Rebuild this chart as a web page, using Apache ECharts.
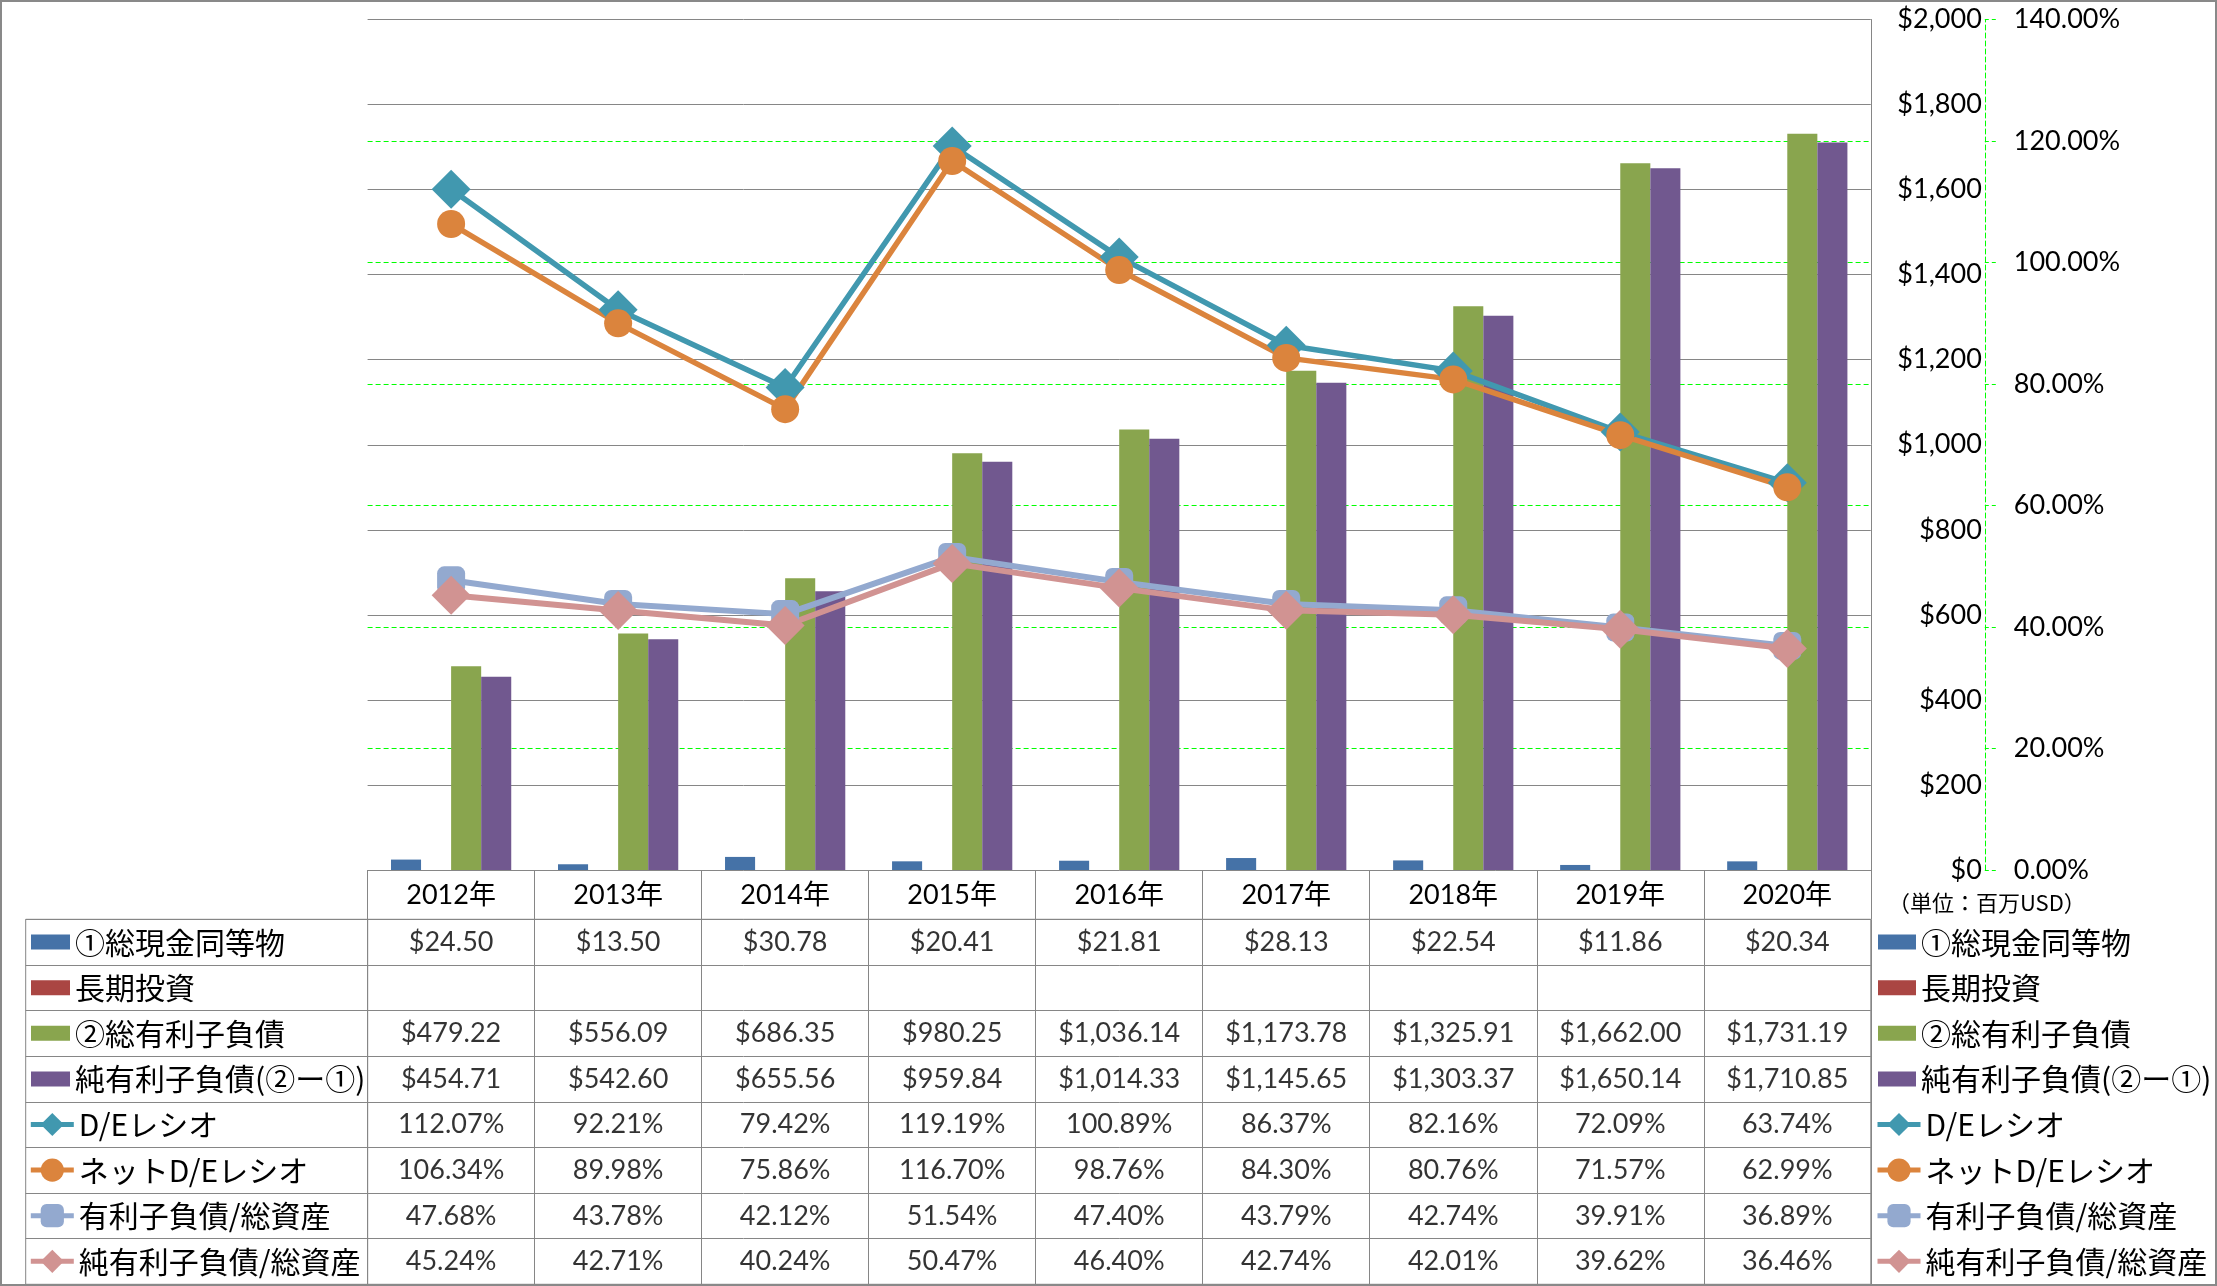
<!DOCTYPE html>
<html>
<head>
<meta charset="utf-8">
<script src="https://cdn.jsdelivr.net/npm/echarts@6/dist/echarts.min.js"></script>
<style>
  html, body { margin: 0; padding: 0; background: #fff; }
  #chart { position: absolute; left: 0; top: 0; width: 2217px; height: 1286px; }
  #frame { position: absolute; left: 0; top: 0; width: 2217px; height: 1286px; box-sizing: border-box; border: 2px solid #898989; pointer-events: none; }
</style>
</head>
<body>
<div id="chart"></div>
<div id="frame"></div>
<script>
// ---- data ----
const categories = ['2012年', '2013年', '2014年', '2015年', '2016年', '2017年', '2018年', '2019年', '2020年'];
const cashEquiv = [24.50, 13.50, 30.78, 20.41, 21.81, 28.13, 22.54, 11.86, 20.34];
const longTermInv = [null, null, null, null, null, null, null, null, null];
const totalDebt = [479.22, 556.09, 686.35, 980.25, 1036.14, 1173.78, 1325.91, 1662.00, 1731.19];
const netDebt = [454.71, 542.60, 655.56, 959.84, 1014.33, 1145.65, 1303.37, 1650.14, 1710.85];
const deRatio = [112.07, 92.21, 79.42, 119.19, 100.89, 86.37, 82.16, 72.09, 63.74];
const netDeRatio = [106.34, 89.98, 75.86, 116.70, 98.76, 84.30, 80.76, 71.57, 62.99];
const debtToAssets = [47.68, 43.78, 42.12, 51.54, 47.40, 43.79, 42.74, 39.91, 36.89];
const netDebtToAssets = [45.24, 42.71, 40.24, 50.47, 46.40, 42.74, 42.01, 39.62, 36.46];
const seriesNames = ['①総現金同等物', '長期投資', '②総有利子負債', '純有利子負債(②ー①)', 'D/Eレシオ', 'ネットD/Eレシオ', '有利子負債/総資産', '純有利子負債/総資産'];
const unitLabel = '（単位：百万USD）';

// ---- styles ----
const NUM = "Lato, 'Noto Sans CJK JP', sans-serif";
const CJK = "'Noto Sans CJK JP', sans-serif";
const BORDER = '#868686';
const GREEN = '#00ff00';
const colors = ['#4572A7', '#AA4643', '#89A54E', '#71588F', '#4198AF', '#DB843D', '#93A9CF', '#D19392'];

const money = v => '$' + v.toLocaleString('en-US', { minimumFractionDigits: 2, maximumFractionDigits: 2 });
const pct = v => v.toFixed(2) + '%';

const barData = [cashEquiv, longTermInv, totalDebt, netDebt];
const lineData = [deRatio, netDeRatio, debtToAssets, netDebtToAssets];
const rowFormats = [money, money, money, money, pct, pct, pct, pct];
const allRows = barData.concat(lineData);

const cells = [];
allRows.forEach((arr, r) => {
  arr.forEach((v, c) => {
    if (v !== null && v !== undefined) cells.push([c, r, rowFormats[r](v)]);
  });
});
const rowIds = seriesNames.map((_, i) => 'r' + i);

const lineSymbols = ['diamond', 'circle', 'roundRect', 'diamond'];
const lineSymbolSizes = [39, 28, 28, 39];
const lineWidths = [5.5, 5.5, 6, 6];

const series = [];
barData.forEach((d, i) => {
  series.push({
    type: 'bar', name: seriesNames[i], data: d,
    xAxisIndex: 0, yAxisIndex: 0,
    barGap: '0%', barCategoryGap: '28%',
    itemStyle: { color: colors[i] }
  });
});
lineData.forEach((d, i) => {
  series.push({
    type: 'line', name: seriesNames[4 + i], data: d,
    xAxisIndex: 0, yAxisIndex: 1,
    symbol: lineSymbols[i], symbolSize: lineSymbolSizes[i],
    lineStyle: { width: lineWidths[i], color: colors[4 + i] },
    itemStyle: { color: colors[4 + i] },
    z: 3
  });
});
series.push({
  type: 'scatter', name: 'table', data: cells,
  xAxisIndex: 1, yAxisIndex: 2,
  symbolSize: 1, itemStyle: { color: 'rgba(0,0,0,0)' },
  silent: true,
  label: {
    show: true, position: 'inside',
    formatter: p => p.value[2],
    fontSize: 27, fontFamily: NUM, color: '#000'
  }
});

const legendText = { fontSize: 30, lineHeight: 30, fontFamily: CJK, color: '#000' };
function mkLegend(names, left, top, w, h, icon) {
  const l = {
    orient: 'vertical', left: left, top: top, padding: 0,
    itemWidth: w, itemHeight: h, itemGap: 15.6,
    selectedMode: false, textStyle: legendText,
    data: names
  };
  if (icon) l.icon = icon;
  else l.lineStyle = { width: 5 };
  return l;
}

const option = {
  animation: false,
  backgroundColor: '#fff',
  title: {
    text: unitLabel, left: 1888, top: 892, padding: 0,
    textStyle: { fontSize: 22, fontWeight: 'normal', fontFamily: CJK, color: '#000' }
  },
  legend: [
    mkLegend(seriesNames.slice(0, 4), 31, 927.1, 39, 15, 'rect'),
    mkLegend(seriesNames.slice(4), 28.3, 1109.5, 43, 29),
    mkLegend(seriesNames.slice(0, 4), 1878, 927.1, 38, 15, 'rect'),
    mkLegend(seriesNames.slice(4), 1875, 1109.5, 43, 29)
  ],
  grid: [
    { left: 367.6, right: 346.2, top: 19.5, bottom: 416 },
    { left: 367.6, right: 346.2, top: 919.3, height: 365, show: true, borderColor: BORDER, borderWidth: 1 },
    { left: 25.7, width: 341.9, top: 919.3, height: 365, show: true, borderColor: BORDER, borderWidth: 1 }
  ],
  xAxis: [
    {
      type: 'category', gridIndex: 0, data: categories,
      axisLine: { lineStyle: { color: BORDER, width: 1 } },
      axisTick: { show: true, length: 49.3, lineStyle: { color: BORDER } },
      axisLabel: { margin: 25, verticalAlign: 'middle', fontSize: 27, fontFamily: NUM, color: '#000' },
      splitLine: { show: false }
    },
    {
      type: 'category', gridIndex: 1, data: categories,
      axisLine: { show: false }, axisTick: { show: false }, axisLabel: { show: false },
      splitLine: { show: true, lineStyle: { color: BORDER } }
    },
    { type: 'category', gridIndex: 2, data: [''], show: false }
  ],
  yAxis: [
    {
      type: 'value', gridIndex: 0, position: 'right', min: 0, max: 2000, interval: 200,
      axisLine: { show: true, lineStyle: { color: BORDER } },
      axisTick: { show: false },
      splitLine: { show: true, showMinLine: false, lineStyle: { color: BORDER } },
      axisLabel: {
        align: 'right', margin: 111,
        formatter: v => '$' + v.toLocaleString('en-US'),
        fontSize: 27, fontFamily: NUM, color: '#000'
      }
    },
    {
      type: 'value', gridIndex: 0, position: 'right', offset: 114, min: 0, max: 140, interval: 20,
      axisLine: { show: true, lineStyle: { color: GREEN, type: [5, 3] } },
      axisTick: { show: true, length: 11, lineStyle: { color: GREEN, type: [4, 3] } },
      splitLine: { show: true, showMinLine: false, showMaxLine: false, lineStyle: { color: GREEN, type: [5, 3] } },
      axisLabel: { margin: 29, formatter: v => v.toFixed(2) + '%', fontSize: 27, fontFamily: NUM, color: '#000' }
    },
    {
      type: 'category', gridIndex: 1, data: rowIds, inverse: true,
      axisLine: { show: false }, axisTick: { show: false }, axisLabel: { show: false },
      splitLine: { show: true, lineStyle: { color: BORDER } }
    },
    {
      type: 'category', gridIndex: 2, data: rowIds, inverse: true,
      axisLine: { show: false }, axisTick: { show: false }, axisLabel: { show: false },
      splitLine: { show: true, lineStyle: { color: BORDER } }
    }
  ],
  series: series
};

const chart = echarts.init(document.getElementById('chart'), null, { renderer: 'canvas' });
chart.setOption(option);
</script>
</body>
</html>
